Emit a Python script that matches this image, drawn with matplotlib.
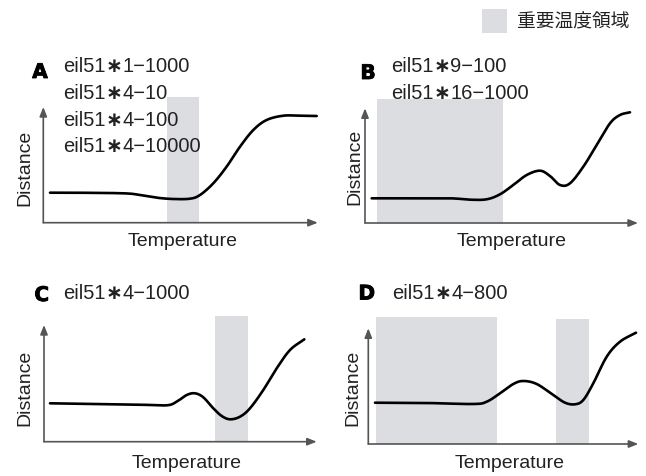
import numpy as np
import matplotlib
matplotlib.use("Agg")
import matplotlib.pyplot as plt
import matplotlib.patheffects as pe
from matplotlib.offsetbox import TextArea, HPacker, AnnotationBbox

plt.rcParams['font.family'] = ['Liberation Sans', 'DejaVu Sans']

# ---- data (schematic curves, offsets in px from axis origin) ----
panel_letters = ["A", "B", "C", "D"]
panel_labels = [
    ["eil51∗1−1000", "eil51∗4−10", "eil51∗4−100", "eil51∗4−10000"],
    ["eil51∗9−100", "eil51∗16−1000"],
    ["eil51∗4−1000"],
    ["eil51∗4−800"],
]
xlabel = "Temperature"
ylabel = "Distance"
legend_label = "重要温度領域"

a_x = [6.7, 30, 80, 96.7, 113.3, 130, 146.7, 156.7, 170, 183.3, 196.7, 210, 223.3, 240, 256.7, 273.4]
a_y = [30, 30, 29.4, 27.7, 25, 23.7, 24, 27.7, 39.4, 56, 76, 92.7, 102.7, 107, 107, 106.7]
b_x = [6.7, 45, 85, 105, 121.7, 135, 148.3, 161.7, 175, 185, 195, 205, 218.3, 231.7, 245, 255, 265]
b_y = [24.7, 24.7, 24.7, 23.3, 23.7, 28.7, 38, 48, 52.3, 47, 38, 39.7, 56.3, 78, 99.7, 108, 110.7]
c_x = [6, 46, 96, 122.7, 132.7, 142.7, 151, 159.3, 169.3, 177.7, 186, 196, 206, 219.3, 232.7, 246, 260.3]
c_y = [38.4, 37.7, 37, 36.4, 40, 46.7, 48.4, 44.4, 33.4, 25.7, 22.4, 25, 33.4, 51.7, 73.4, 91.7, 102.4]
d_x = [6.7, 58.4, 105, 118.4, 131.7, 145, 155, 168.4, 185, 196.7, 206.7, 215, 225, 238.4, 251.7, 267.7]
d_y = [41.3, 41, 40, 42.3, 50.7, 60, 63, 60, 49, 41.3, 39.7, 44, 60.7, 87.3, 102.3, 111.3]
curves = [(a_x, a_y), (b_x, b_y), (c_x, c_y), (d_x, d_y)]

# important temperature regions (x start, x end, top)
regions = [
    [(123.4, 156.0, 126.0)],
    [(12.3, 137.7, 123.7)],
    [(171.0, 204.3, 125.7)],
    [(7.7, 128.4, 126.7), (187.4, 220.4, 125.0)],
]

# ---- layout (pixels) ----
W, H = 646, 476
origins = [(43.3, 222.7), (365.0, 223.0), (44.0, 441.7), (368.3, 444.0)]
x_ends = [274.5, 273.0, 272.7, 270.0]
y_tops = [115.7, 114.7, 116.7, 115.7]
letter_pos = [(40, 72.5), (368, 73.5), (41.7, 295.5), (366.7, 294)]
text_left = [63, 391, 63, 391.7]
text_y0 = [66.7, 66.7, 293.3, 293.3]
xlabel_pos = [(183, 241.7), (511.7, 241.7), (186.7, 463.3), (510, 463.3)]
ylabel_pos = [(25, 168), (355, 166.7), (25, 388), (353.3, 388.3)]

shade = '#dcdde0'
axcol = '#555555'
txtcol = '#222222'


def catmull(x, y, n=24):
    p = np.column_stack([x, y]).astype(float)
    p = np.vstack([2 * p[0] - p[1], p, 2 * p[-1] - p[-2]])
    out = []
    t = np.linspace(0, 1, n, endpoint=False)[:, None]
    for i in range(1, len(p) - 2):
        p0, p1, p2, p3 = p[i - 1], p[i], p[i + 1], p[i + 2]
        seg = 0.5 * ((2 * p1) + (-p0 + p2) * t + (2 * p0 - 5 * p1 + 4 * p2 - p3) * t ** 2
                     + (-p0 + 3 * p1 - 3 * p2 + p3) * t ** 3)
        out.append(seg)
    out.append(p[-2][None, :])
    out = np.vstack(out)
    return out[:, 0], out[:, 1]


fig = plt.figure(figsize=(W / 100, H / 100), dpi=100)


def label_text(s, x, y):
    # render the asterisk heavier than the rest, like the reference
    parts = s.split("∗")
    tp = dict(fontsize=14.5, color=txtcol, family=['Liberation Sans', 'DejaVu Sans'])
    tpa = dict(fontsize=14.5, color=txtcol, family=['DejaVu Sans'], fontweight='bold')
    boxes = [TextArea(parts[0], textprops=tp), TextArea("∗", textprops=tpa),
             TextArea(parts[1], textprops=tp)]
    pack = HPacker(children=boxes, align='baseline', pad=0, sep=0)
    ab = AnnotationBbox(pack, (x / W, 1 - y / H), xycoords='figure fraction',
                        box_alignment=(0, 0.5), frameon=False, pad=0, zorder=5)
    fig.add_artist(ab)


for k in range(4):
    ox, oy = origins[k]
    top = max([r[2] for r in regions[k]] + [y_tops[k]])
    ax = fig.add_axes([ox / W, (H - oy) / H, x_ends[k] / W, top / H])
    ax.set_xlim(0, x_ends[k])
    ax.set_ylim(0, top)
    ax.axis('off')
    for (x0, x1, yt) in regions[k]:
        ax.fill_between([x0, x1], 0, yt, color=shade, lw=0, zorder=1)
    xs, ys = catmull(*curves[k])
    ax.plot(xs, ys, color='black', lw=1.9, solid_capstyle='round', zorder=3, clip_on=False)
    arrow = dict(arrowstyle='-|>,head_length=0.55,head_width=0.22', color=axcol, lw=1.2,
                 shrinkA=0, shrinkB=0)
    ax.annotate('', xy=(x_ends[k], 0), xytext=(0, 0), arrowprops=arrow, zorder=2,
                annotation_clip=False)
    ax.annotate('', xy=(0, y_tops[k]), xytext=(0, 0), arrowprops=arrow, zorder=2,
                annotation_clip=False)

    lx, ly = letter_pos[k]
    fig.text(lx / W, 1 - ly / H, panel_letters[k], ha='center', va='center',
             fontsize=14.5, fontweight='bold', family=['DejaVu Sans'], color='black',
             path_effects=[pe.withStroke(linewidth=0.6, foreground='black')])
    for j, s in enumerate(panel_labels[k]):
        label_text(s, text_left[k], text_y0[k] + 26.7 * j)
    xx, xy = xlabel_pos[k]
    fig.text(xx / W, 1 - xy / H, xlabel, ha='center', va='center', fontsize=14, color=txtcol)
    yx, yy = ylabel_pos[k]
    fig.text(yx / W, 1 - yy / H, ylabel, ha='center', va='center', rotation=90,
             fontsize=14, color=txtcol)

# legend
lax = fig.add_axes([0, 0, 1, 1], facecolor='none')
lax.set_xlim(0, W)
lax.set_ylim(H, 0)
lax.axis('off')
lax.add_patch(plt.Rectangle((482.3, 9), 24.4, 24.3, color=shade, lw=0))
lax.text(516.7, 21.7, legend_label, ha='left', va='center', fontsize=13.5, color=txtcol,
         family=['Noto Sans CJK JP', 'DejaVu Sans'])

fig.savefig('out.png', dpi=100)
